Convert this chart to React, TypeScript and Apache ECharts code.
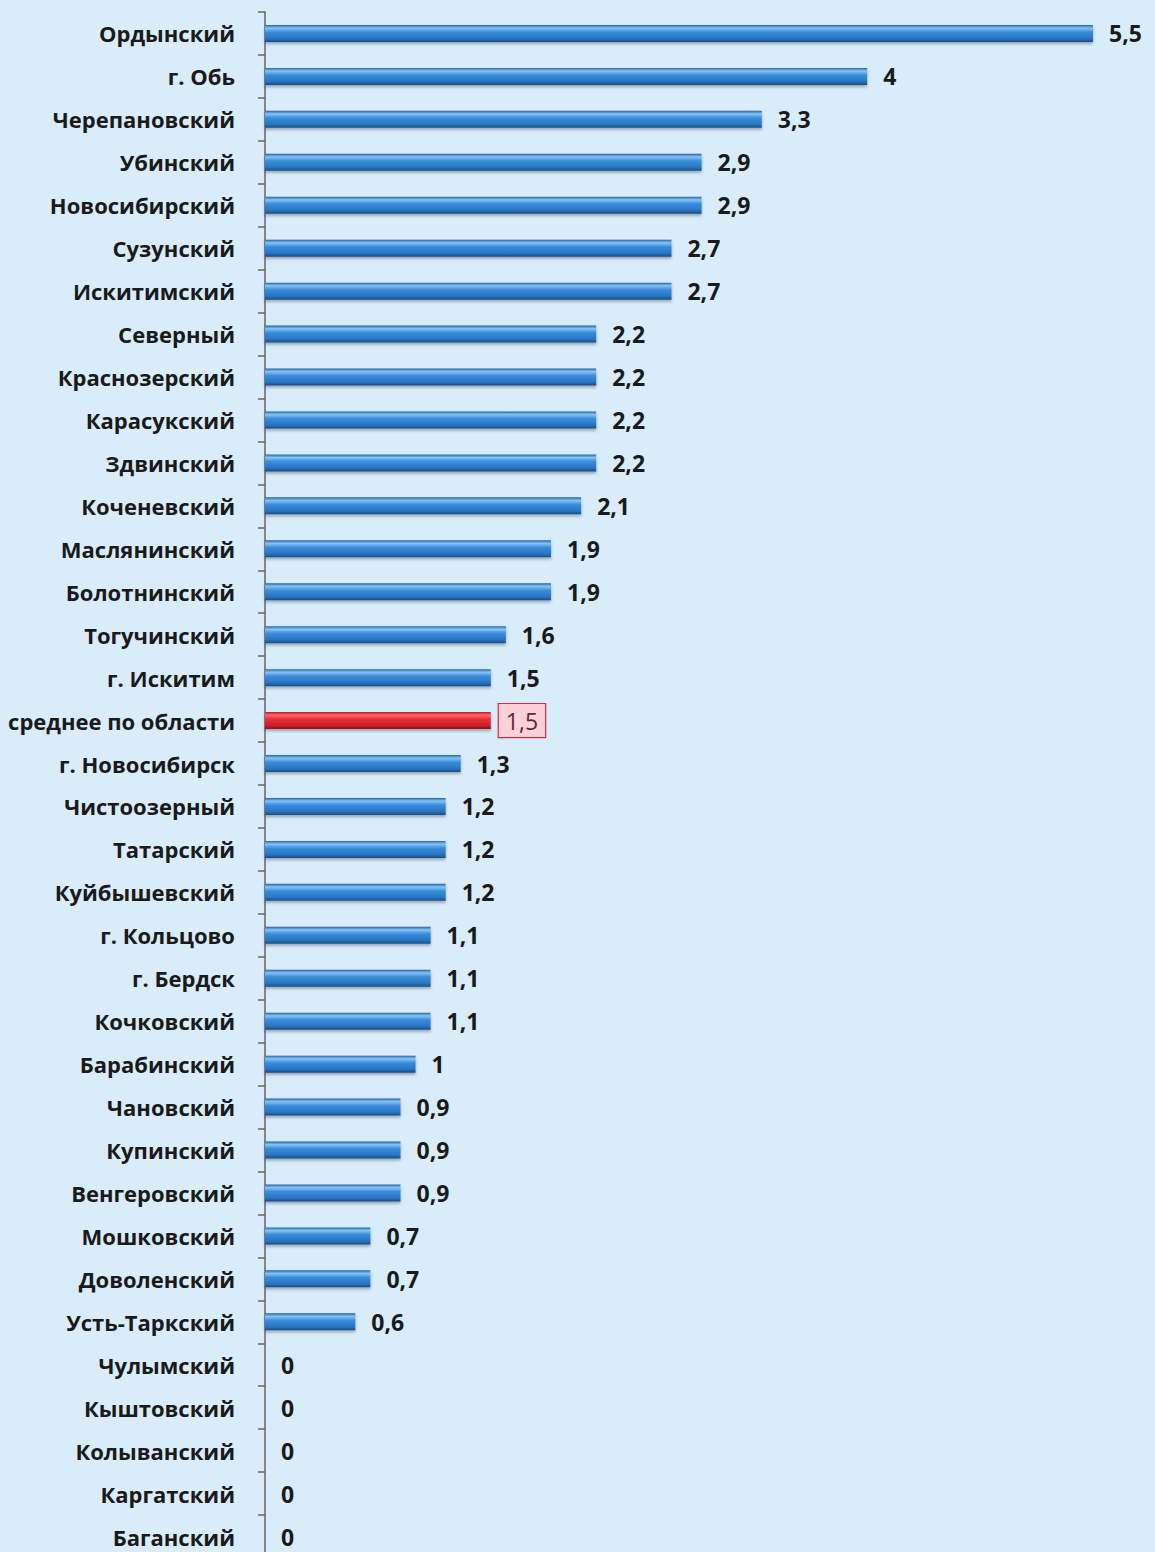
import React, { useEffect, useRef } from "react";
import * as echarts from "echarts";

const categories = [
  "Ордынский", "г. Обь", "Черепановский", "Убинский", "Новосибирский", "Сузунский",
  "Искитимский", "Северный", "Краснозерский", "Карасукский", "Здвинский", "Коченевский",
  "Маслянинский", "Болотнинский", "Тогучинский", "г. Искитим", "среднее по области",
  "г. Новосибирск", "Чистоозерный", "Татарский", "Куйбышевский", "г. Кольцово", "г. Бердск",
  "Кочковский", "Барабинский", "Чановский", "Купинский", "Венгеровский", "Мошковский",
  "Доволенский", "Усть-Таркский", "Чулымский", "Кыштовский", "Колыванский", "Каргатский", "Баганский",
];

const values = [
  5.5, 4, 3.3, 2.9, 2.9, 2.7, 2.7, 2.2, 2.2, 2.2, 2.2, 2.1, 1.9, 1.9, 1.6, 1.5, 1.5,
  1.3, 1.2, 1.2, 1.2, 1.1, 1.1, 1.1, 1, 0.9, 0.9, 0.9, 0.7, 0.7, 0.6, 0, 0, 0, 0, 0,
];

const highlightCategory = "среднее по области";

const blueGrad = new echarts.graphic.LinearGradient(0, 0, 0, 1, [
  { offset: 0, color: "#2463a8" },
  { offset: 0.18, color: "#86c4f4" },
  { offset: 0.42, color: "#3a8ddc" },
  { offset: 0.8, color: "#2874c2" },
  { offset: 1, color: "#1a4b82" },
]);
const redGrad = new echarts.graphic.LinearGradient(0, 0, 0, 1, [
  { offset: 0, color: "#c01c28" },
  { offset: 0.18, color: "#ff6a70" },
  { offset: 0.42, color: "#e8303a" },
  { offset: 0.8, color: "#cc1e2a" },
  { offset: 1, color: "#861018" },
]);

const fmt = (v: number) => String(v).replace(".", ",");

export default function App() {
  const ref = useRef<HTMLDivElement>(null);
  useEffect(() => {
    document.body.style.margin = "0";
    const chart = echarts.init(ref.current!, undefined, { renderer: "svg" });
    const data = values.map((v, i) => {
      const isAvg = categories[i] === highlightCategory;
      return {
        value: v,
        itemStyle: { color: isAvg ? redGrad : blueGrad },
        label: isAvg
          ? {
              fontWeight: "normal",
              color: "#6a2430",
              backgroundColor: "#f9d2da",
              borderColor: "#e0283a",
              borderWidth: 1.2,
              padding: [6, 7, 4, 7],
              distance: 8,
            }
          : undefined,
      };
    });
    chart.setOption({
      animation: false,
      backgroundColor: "#d9ecf9",
      grid: { left: 265, top: 12, width: 828, height: 1546, outerBoundsMode: "none" },
      xAxis: {
        type: "value",
        min: 0,
        max: 5.5,
        show: false,
      },
      yAxis: {
        type: "category",
        inverse: true,
        data: categories,
        axisLine: { show: true, lineStyle: { color: "#666", width: 1.5 } },
        axisTick: { show: true, length: 7, lineStyle: { color: "#666", width: 1.5 } },
        axisLabel: {
          margin: 30,
          fontFamily: "Open Sans",
          fontWeight: "bold",
          fontSize: 22,
          color: "#1a1a1a",
        },
      },
      series: [
        {
          type: "bar",
          data,
          barWidth: 17,
          itemStyle: {
            shadowColor: "rgba(0,0,0,0.3)",
            shadowBlur: 3,
            shadowOffsetY: 2,
          },
          label: {
            show: true,
            position: "right",
            distance: 16,
            fontFamily: "Open Sans",
            fontWeight: "bold",
            fontSize: 23,
            color: "#1a1a1a",
            formatter: (p: any) => fmt(p.value),
          },
        },
      ],
    });
    return () => chart.dispose();
  }, []);
  return <div ref={ref} style={{ width: 1155, height: 1552 }} />;
}
